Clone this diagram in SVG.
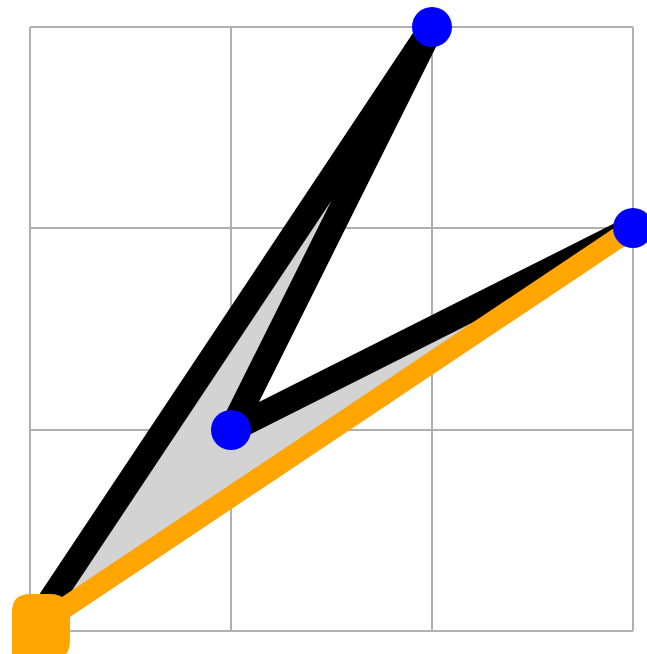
<svg xmlns="http://www.w3.org/2000/svg" width="647" height="654" viewBox="0 0 647 654">
<style>
.grid{stroke:#b0b0b0;stroke-width:2;fill:none}
.pt{fill:#0000ff}
</style>
<rect width="647" height="654" fill="#ffffff"/>
<g id="grid">
<path class="grid" d="M30 27H633M30 228H633M30 430H633M30 631H633M30 27V631M231 27V631M432 27V631M633 27V631"/>
</g>
<g id="connectors">
<path d="M30 631L432 27L231 430L633 228" fill="#d3d3d3" stroke="#000000" stroke-width="25" stroke-linejoin="round"/>
<line x1="30" y1="631" x2="633" y2="228" stroke="#ffa500" stroke-width="21"/>
</g>
<g id="start">
<path d="M12 612Q12 594 30 594H50Q70 594 70 616V640Q70 654 60 660H12Z" fill="#ffa500"/>
</g>
<g id="p1"><circle class="pt" cx="432" cy="27" r="20"/></g>
<g id="p2"><circle class="pt" cx="633" cy="228" r="20"/></g>
<g id="p3"><circle class="pt" cx="231" cy="430" r="20"/></g>
</svg>
